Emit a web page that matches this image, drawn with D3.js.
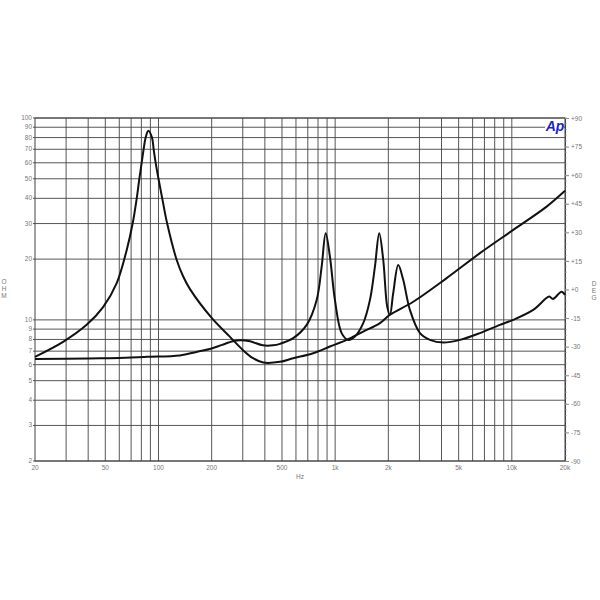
<!DOCTYPE html>
<html><head><meta charset="utf-8">
<script src="https://cdn.jsdelivr.net/npm/d3@7"></script>
<style>body{margin:0;background:#fff}svg{display:block}</style>
</head><body>
<svg id="c" width="600" height="600"></svg>
<script>
// ---- data ----
const freqA = [20, 29, 39.2, 48.7, 58, 66.1, 71.4, 75.3, 77.9, 80.3, 82.4, 84.6, 87.6, 91.9, 93.9, 96.4, 100, 105, 112, 126.8, 137.6, 150.8, 200, 254, 300, 343, 392, 487, 579, 751, 934, 1161, 1442, 1793, 2042, 2767, 4276, 6600, 10190, 15740, 20000];
const ohmA  = [6.56, 7.81, 9.45, 11.6, 15.2, 22.2, 30, 40, 50, 60, 70, 80, 86.5, 80, 70, 60, 50, 40, 30, 19.8, 16.5, 14.2, 10.23, 8.24, 7.1, 6.46, 6.15, 6.2, 6.46, 6.84, 7.38, 7.96, 8.75, 9.64, 10.6, 12.3, 16.1, 21.4, 27.9, 36.4, 43.6];
const freqB = [20, 46.7, 85.7, 132, 164, 200, 229, 264, 289, 330, 390, 445, 487, 579, 690, 786, 839, 884, 934, 997, 1088, 1186, 1294, 1442, 1574, 1680, 1776, 1872, 1972, 2042, 2132, 2276, 2428, 2650, 3020, 3440, 4090, 5085, 6598, 8562, 10186, 13214, 16281, 17085, 19130, 20000];
const ohmB  = [6.41, 6.45, 6.56, 6.67, 6.94, 7.22, 7.52, 7.83, 7.92, 7.83, 7.48, 7.48, 7.61, 8.12, 9.45, 12.56, 18.4, 26.9, 20.6, 12.56, 8.6, 7.96, 8.27, 9.63, 12.56, 18.4, 26.9, 19.8, 11.6, 10.6, 13.6, 18.7, 15.8, 11.2, 8.6, 7.96, 7.72, 7.96, 8.6, 9.45, 10, 11.2, 13.04, 12.7, 13.8, 13.3];
const xGrid = [30,40,50,60,70,80,90,100,200,300,400,500,600,700,800,900,1000,2000,3000,4000,5000,6000,7000,8000,9000,10000];
const xLabels = [[20,"20"],[50,"50"],[100,"100"],[200,"200"],[500,"500"],[1000,"1k"],[2000,"2k"],[5000,"5k"],[10000,"10k"],[20000,"20k"]];
const yTicks = [2,3,4,5,6,7,8,9,10,20,30,40,50,60,70,80,90,100];
const degTicks = [-90,-75,-60,-45,-30,-15,0,15,30,45,60,75,90];

// ---- chart ----
const svg = d3.select("#c");
const L = 35, R = 565, T = 118, B = 461;
const x = d3.scaleLog().domain([20, 20000]).range([L, R]);
const y = d3.scaleLog().domain([2, 100]).range([B, T]);
const yDeg = d3.scaleLinear().domain([-90, 90]).range([B, T]);
const txt = "#777";
const font = "Liberation Sans, Arial, sans-serif";

const g = svg.append("g");
g.selectAll("line.vx").data(xGrid).join("line")
  .attr("x1", d => x(d)).attr("x2", d => x(d)).attr("y1", T).attr("y2", B)
  .attr("stroke", "#444").attr("stroke-width", 0.9);
g.selectAll("line.hy").data(yTicks).join("line")
  .attr("x1", L - 2).attr("x2", R).attr("y1", d => y(d)).attr("y2", d => y(d))
  .attr("stroke", "#444").attr("stroke-width", 0.9);
g.append("rect").attr("x", L).attr("y", T).attr("width", R - L).attr("height", B - T)
  .attr("fill", "none").attr("stroke", "#444").attr("stroke-width", 1);

g.selectAll("text.yl").data(yTicks).join("text")
  .attr("x", L - 3).attr("y", d => y(d) + 2)
  .attr("text-anchor", "end").attr("font-family", font).attr("font-size", 6.5).attr("fill", txt)
  .text(d => d);
g.selectAll("text.xl").data(xLabels).join("text")
  .attr("x", d => x(d[0])).attr("y", B + 8.5)
  .attr("text-anchor", "middle").attr("font-family", font).attr("font-size", 6.5).attr("fill", txt)
  .text(d => d[1]);

const rAxis = d3.axisRight(yDeg).tickValues(degTicks).tickSize(4)
  .tickFormat(d => (d >= 0 ? "+" : "") + d);
const ra = g.append("g").attr("transform", `translate(${R},0)`).call(rAxis);
ra.select(".domain").attr("stroke", "#444");
ra.selectAll(".tick line").attr("stroke", "#888");
ra.selectAll(".tick text").attr("font-family", font).attr("font-size", 6.5).attr("fill", txt).attr("x", 6);
const minor = d3.range(-90, 91, 3);
g.selectAll("line.mn").data(minor).join("line")
  .attr("x1", R).attr("x2", R + 2).attr("y1", d => yDeg(d)).attr("y2", d => yDeg(d))
  .attr("stroke", "#999").attr("stroke-width", 0.6);

["O","H","M"].forEach((c, i) => g.append("text").attr("x", 4).attr("y", 284 + i * 7)
  .attr("text-anchor", "middle").attr("font-family", font).attr("font-size", 6.5).attr("fill", txt).text(c));
["D","E","G"].forEach((c, i) => g.append("text").attr("x", 594).attr("y", 286 + i * 7)
  .attr("text-anchor", "middle").attr("font-family", font).attr("font-size", 6.5).attr("fill", txt).text(c));
g.append("text").attr("x", 300).attr("y", 479).attr("text-anchor", "middle")
  .attr("font-family", font).attr("font-size", 6.5).attr("fill", txt).text("Hz");

const line = d3.line().x(d => x(d[0])).y(d => y(d[1])).curve(d3.curveCatmullRom.alpha(0.5));
const dA = freqA.map((f, i) => [f, ohmA[i]]);
const dB = freqB.map((f, i) => [f, ohmB[i]]);
g.append("path").attr("d", line(dA)).attr("fill", "none").attr("stroke", "#111").attr("stroke-width", 2);
g.append("path").attr("d", line(dB)).attr("fill", "none").attr("stroke", "#111").attr("stroke-width", 2);

g.append("rect").attr("x", 545).attr("y", 119).attr("width", 19).attr("height", 14).attr("fill", "#fff");
g.append("text").attr("x", 555).attr("y", 131).attr("text-anchor", "middle")
  .attr("font-family", "Liberation Sans, Arial, sans-serif").attr("font-weight", "bold").attr("font-style", "italic")
  .attr("font-size", 14).attr("fill", "#1f1fd0").text("Ap");
</script>
</body></html>
